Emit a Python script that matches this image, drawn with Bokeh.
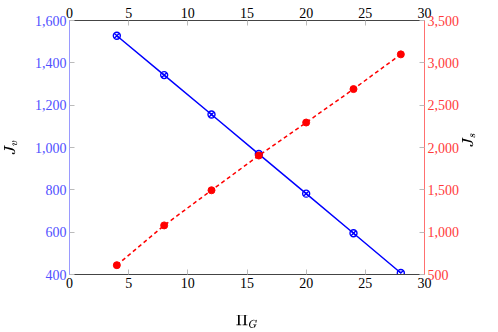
import math
from bokeh.plotting import figure
from bokeh.models import Range1d, LinearAxis, FixedTicker, NumeralTickFormatter
from bokeh.embed import file_html
from bokeh.resources import INLINE

x_vals = [4, 8, 12, 16, 20, 24, 28]
jv_vals = [1528, 1342, 1156, 969, 782, 595, 407]
js_vals = [610, 1080, 1495, 1905, 2295, 2690, 3100]

x_ticks = [0, 5, 10, 15, 20, 25, 30]
left_ticks = [400, 600, 800, 1000, 1200, 1400, 1600]
right_ticks = [500, 1000, 1500, 2000, 2500, 3000, 3500]

FONT = "Liberation Serif"
FS = "14px"

p = figure(frame_width=355, frame_height=254, output_backend="svg", toolbar_location=None,
           x_range=Range1d(0, 30), y_range=Range1d(400, 1600),
           x_axis_location=None, y_axis_location=None,
           min_border_left=62, min_border_right=40, min_border_top=20, min_border_bottom=40)
p.outline_line_color = None
p.grid.visible = False
p.extra_y_ranges = {"right": Range1d(500, 3500)}

def style(ax, line_color, label_color):
    ax.axis_line_color = line_color
    ax.axis_line_width = 1
    ax.major_tick_line_color = "#bbbbbb"
    ax.major_tick_in = 5
    ax.major_tick_out = 0
    ax.minor_tick_line_color = None
    ax.major_label_text_font = FONT
    ax.major_label_text_font_size = FS
    ax.major_label_text_color = label_color
    ax.major_label_standoff = 3
    ax.axis_label_text_font = FONT
    ax.axis_label_text_font_style = "italic"
    ax.axis_label_text_font_size = "15px"
    ax.axis_label_text_color = "black"

bottom = LinearAxis(ticker=FixedTicker(ticks=x_ticks), axis_label=r"$$\Pi_G$$")
style(bottom, "#444444", "black")
bottom.axis_label_standoff = 24
p.add_layout(bottom, "below")

top = LinearAxis(ticker=FixedTicker(ticks=x_ticks))
style(top, "#444444", "black")
top.major_label_standoff = 3
p.add_layout(top, "above")

left = LinearAxis(ticker=FixedTicker(ticks=left_ticks), axis_label=r"$$J_v$$",
                  formatter=NumeralTickFormatter(format="0,0"))
style(left, "#9a9aff", "#5050ff")
left.axis_label_standoff = 12
p.add_layout(left, "left")

right = LinearAxis(ticker=FixedTicker(ticks=right_ticks), y_range_name="right",
                   axis_label=r"$$J_s$$", formatter=NumeralTickFormatter(format="0,0"))
style(right, "#ff7070", "#ff3b3b")
right.axis_label_standoff = 8
right.axis_label_orientation = math.pi / 2
p.add_layout(right, "right")

p.line(x_vals, jv_vals, line_color="blue", line_width=1.5)
p.scatter(x_vals, jv_vals, marker="circle_x", size=7, line_color="blue",
          fill_color=None, line_width=1.4)

p.line(x_vals, js_vals, y_range_name="right", line_color="red", line_width=1.5,
       line_dash="4 3")
p.scatter(x_vals, js_vals, y_range_name="right", marker="circle", size=7,
          line_color="red", fill_color="red")

open("out.html", "w").write(file_html(p, INLINE))
